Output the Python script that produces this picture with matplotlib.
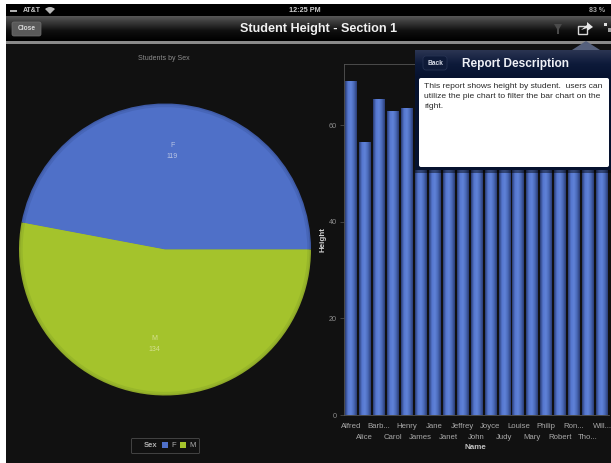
import numpy as np
import matplotlib
matplotlib.use("Agg")
import matplotlib.pyplot as plt
from matplotlib.patches import Rectangle, FancyBboxPatch, Polygon, Patch, Wedge

# ---- data ----
sex_labels = ["F", "M"]
sex_counts = [119, 134]
names = ["Alfred", "Alice", "Barb...", "Carol", "Henry", "James", "Jane", "Janet",
         "Jeffrey", "John", "Joyce", "Judy", "Louise", "Mary", "Philip", "Robert",
         "Ron...", "Tho...", "Will..."]
heights = [69.0, 56.5, 65.3, 62.8, 63.5, 57.3, 59.8, 62.5, 62.5, 59.0,
           51.3, 64.3, 56.3, 66.5, 72.0, 64.8, 67.0, 57.5, 66.5]
y_ticks = [0, 20, 40, 60]

W, H = 611, 463
BG = "#111111"
BLUE, GREEN = "#4f70c8", "#a4c32c"
BLUE_D, GREEN_D = "#3f5ba8", "#8ea828"
plt.rcParams["font.family"] = ["Liberation Sans", "DejaVu Sans"]

fig = plt.figure(figsize=(W / 100, H / 100), dpi=100, facecolor="white")


def px_axes(x0, y0, x1, y1, **kw):
    return fig.add_axes([x0 / W, 1 - y1 / H, (x1 - x0) / W, (y1 - y0) / H], **kw)


# ---- background chrome ----
bg = px_axes(0, 0, W, H, zorder=0)
bg.set_xlim(0, W); bg.set_ylim(H, 0); bg.axis("off")
bg.add_patch(Rectangle((6, 4), W - 6, H - 4, color=BG, lw=0))
bg.add_patch(Rectangle((6, 4), W - 6, 12, color="#000000", lw=0))
grad = np.linspace(0, 1, 64)[:, None]
nav = np.interp(grad, [0, 0.6, 1], [0.34, 0.06, 0.0])
bg.imshow(nav, extent=[6, W, 41, 16], cmap="gray", vmin=0, vmax=1, aspect="auto", zorder=1)
bg.set_xlim(0, W); bg.set_ylim(H, 0)
bg.add_patch(Rectangle((6, 41), W - 6, 3, color="#8a8a8a", lw=0, zorder=2))
bg.add_patch(FancyBboxPatch((12, 22), 29, 14, boxstyle="round,pad=0,rounding_size=2",
                            fc="#5a5a5a", ec="#707070", lw=0.5, zorder=2))
bg.text(26.5, 29, "Close", color="#d8d8d8", fontsize=4.8, fontweight="bold",
        ha="center", va="center", zorder=3)
bg.add_patch(Rectangle((10, 9.5), 7, 2, color="#b0b0b0", lw=0, zorder=3))
bg.text(32, 10, "AT&T", color="#c8c8c8", fontsize=5, fontweight="bold", ha="center", va="center", zorder=3)
bg.add_patch(Wedge((50, 14), 7, 225, 315, color="#b8b8b8", lw=0, zorder=3))
bg.text(305, 10, "12:25 PM", color="#d0d0d0", fontsize=5.2, fontweight="bold", ha="center", va="center", zorder=3)
bg.text(597, 10, "83 %", color="#a8a8a8", fontsize=5, fontweight="bold", ha="center", va="center", zorder=3)
bg.text(319, 29, "Student Height - Section 1", color="#f0f0f0", fontsize=9.1, fontweight="bold",
        ha="center", va="center", zorder=3)
bg.text(164, 59, "Students by Sex", color="#8c8c8c", fontsize=5, ha="center", va="center", zorder=3)
# funnel, share and expand icons
bg.add_patch(Polygon([[554, 24], [562, 24], [559, 29], [559, 34], [557, 34], [557, 29]],
                     closed=True, color="#4a4a4a", lw=0, zorder=3))
bg.add_patch(Rectangle((578, 26), 9, 8, fc="none", ec="#d8d8d8", lw=1, zorder=3))
bg.add_patch(Polygon([[581, 30], [587, 25], [587, 22], [593, 27], [587, 31], [587, 28]],
                     closed=True, color="#e8e8e8", lw=0, zorder=3))
bg.add_patch(Rectangle((604, 23), 3, 3, color="#e0e0e0", lw=0, zorder=3))
bg.add_patch(Rectangle((608, 28), 3, 4, color="#a0a0a0", lw=0, zorder=3))

# ---- pie ----
cx, cy, r = 165, 249.5, 146
pie_ax = px_axes(cx - r, cy - r, cx + r, cy + r, zorder=2)
for rad, cols in [(1.0, (BLUE_D, GREEN_D)), (0.99, ("#4766b8", "#98b72a")), (0.975, (BLUE, GREEN))]:
    pie_ax.pie(sex_counts, colors=cols, radius=rad, startangle=0, counterclock=True,
               wedgeprops={"linewidth": 0})
pie_ax.set_xlim(-1, 1); pie_ax.set_ylim(-1, 1)
pie_ax.text(0.05, 0.675, f"{sex_labels[0]}\n{sex_counts[0]}", color="#b8c4e4", fontsize=5,
            ha="center", va="center", linespacing=1.7)
pie_ax.text(-0.07, -0.647, f"{sex_labels[1]}\n{sex_counts[1]}", color="#d4e090", fontsize=5,
            ha="center", va="center", linespacing=1.7)

# ---- legend ----
handles = [Patch(visible=False),
           Patch(facecolor=BLUE, edgecolor="none"),
           Patch(facecolor=GREEN, edgecolor="none")]
leg = fig.legend(handles, ["Sex"] + sex_labels, ncols=3, loc="center",
                 bbox_to_anchor=(165 / W, 1 - 445.5 / H), fontsize=5.5, frameon=True,
                 handlelength=0.9, handleheight=0.9, handletextpad=0.35, columnspacing=0.5,
                 borderpad=0.5, facecolor=BG, edgecolor="#5a5a5a", labelcolor="#b0b0b0",
                 fancybox=True)
leg.get_frame().set_linewidth(0.6)
leg.get_texts()[0].set_fontweight("bold")
leg.set_zorder(3)

# ---- bars ----
ax = px_axes(344, 64, 609, 415, zorder=2)
ax.patch.set_alpha(0)
x = np.arange(len(heights))
cmap = matplotlib.colors.LinearSegmentedColormap.from_list(
    "bar", ["#2c3f78", "#5678d0", "#5f82d8", "#4a69b8", "#2c3f78"])
shade = np.linspace(0, 1, 32)[None, :]
bars = ax.bar(x, heights, width=0.84, color=BLUE, linewidth=0)
for b in bars:
    ax.imshow(shade, extent=[b.get_x(), b.get_x() + b.get_width(), 0, b.get_height()],
              cmap=cmap, aspect="auto", zorder=2)
ax.set_xlim(-0.5, len(heights) - 0.5)
ax.set_ylim(0, 72.7)
ax.set_yticks(y_ticks)
# two staggered rows of category labels: major ticks upper row, minor ticks lower row
ax.set_xticks(x[::2])
ax.set_xticklabels(names[::2])
ax.set_xticks(x[1::2], minor=True)
ax.set_xticklabels(names[1::2], minor=True)
ax.tick_params(axis="x", which="major", length=0, labelsize=5.6, labelcolor="#a8a8a8", pad=6)
ax.tick_params(axis="x", which="minor", length=0, labelsize=5.6, labelcolor="#a8a8a8", pad=13.5)
ax.tick_params(axis="y", length=3, width=0.5, color="#555555", labelsize=5.2, labelcolor="#8c8c8c", pad=2)
ax.spines["right"].set_visible(False)
for s in ("left", "top", "bottom"):
    ax.spines[s].set_color("#555555")
    ax.spines[s].set_linewidth(0.6)
ax.set_xlabel("Name", color="#c0c0c0", fontsize=5.8, fontweight="bold")
ax.xaxis.set_label_coords(0.495, -0.0815, transform=ax.transAxes)
ax.set_ylabel("Height", color="#d0d0d0", fontsize=5.8, fontweight="bold", labelpad=2)

# ---- popover ----
top = px_axes(0, 0, W, H, zorder=5)
top.patch.set_alpha(0)
top.set_xlim(0, W); top.set_ylim(H, 0); top.axis("off")
pg = np.linspace(0, 1, 64)[:, None]
navy = matplotlib.colors.LinearSegmentedColormap.from_list("navy", ["#2b3552", "#0d1a3a", "#06122e"])
top.imshow(pg, extent=[415, W, 78, 50], cmap=navy, aspect="auto", zorder=1)
top.add_patch(Rectangle((415, 78), W - 415, 92, color="#06122e", lw=0, zorder=1))
top.add_patch(Rectangle((415, 170), W - 415, 3, color="#000000", alpha=0.45, lw=0, zorder=1))
top.add_patch(Polygon([[572, 50], [586, 41], [600, 50]], closed=True, color="#55607c", lw=0, zorder=1))
top.add_patch(FancyBboxPatch((419, 78), 190, 89, boxstyle="round,pad=0,rounding_size=2",
                             fc="white", ec="none", zorder=2))
top.add_patch(FancyBboxPatch((423, 56), 24, 14, boxstyle="round,pad=0,rounding_size=3",
                             fc="#0e1a38", ec="#2a3656", lw=0.5, zorder=2))
top.text(435, 63.5, "Back", color="#d8dce8", fontsize=4.8, fontweight="bold", ha="center", va="center", zorder=3)
top.text(515, 63.5, "Report Description", color="#eef0f6", fontsize=8.6, fontweight="bold",
         ha="center", va="center", zorder=3)
top.text(424, 83, "This report shows height by student.  users can\nutilize the pie chart to filter the bar chart on the\nright.",
         color="#2a2a2a", fontsize=6.1, ha="left", va="top", linespacing=1.55, zorder=3)
top.set_xlim(0, W); top.set_ylim(H, 0)

fig.savefig("out.png", dpi=100, facecolor=fig.get_facecolor())
